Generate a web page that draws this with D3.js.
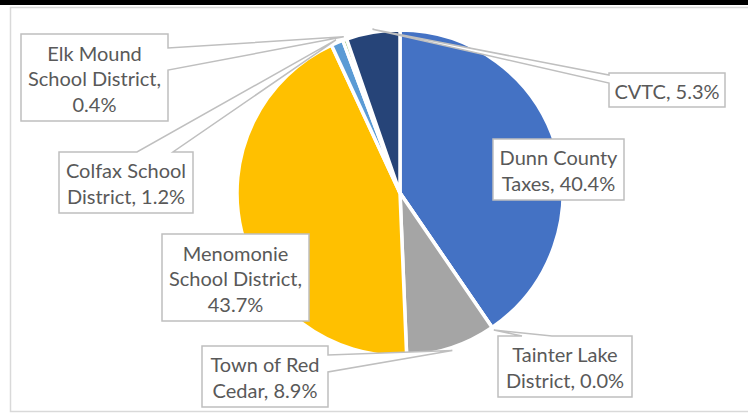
<!DOCTYPE html>
<html>
<head>
<meta charset="utf-8">
<script src="https://cdn.jsdelivr.net/npm/d3@7"></script>
<style>
  body { margin: 0; background: #fff; }
  svg { display: block; }
</style>
</head>
<body>
<svg id="chart" width="748" height="414"></svg>
<script>
// slices, clockwise from 12 o'clock
var categories = ["Dunn County Taxes", "Tainter Lake District", "Town of Red Cedar",
  "Menomonie School District", "Colfax School District", "Elk Mound School District", "CVTC"];
var shares = [40.4, 0.0, 8.9, 43.7, 1.2, 0.4, 5.3];
var nameLines = [["Dunn County", "Taxes"], ["Tainter Lake", "District"], ["Town of Red", "Cedar"],
  ["Menomonie", "School District"], ["Colfax School", "District"], ["Elk Mound", "School District"], ["CVTC"]];
var colors = ["#4472C4", "#ED7D31", "#A5A5A5", "#FFC000", "#5B9BD5", "#70AD47", "#264478"];

// callout boxes (x, y, w, h), which side the pointer leaves from and where
var callouts = [
  {box: [493, 139, 131, 61], side: null},
  {box: [498, 336, 134, 61], side: "top", base: [522, 552]},
  {box: [202, 346, 126, 61], side: "right", base: [355, 372]},
  {box: [162, 234, 147, 87], side: null, ownLine: true},
  {box: [59, 152, 134, 61], side: "top", base: [137, 173]},
  {box: [21, 34, 147, 87], side: "right", base: [48, 70], ownLine: true},
  {box: [609, 73, 116, 34], side: "left", base: [75, 83]}
];

var svg = d3.select("#chart");
var cx = 400, cy = 193, R = 163;
var fmt = d3.format(".1f");

// frame
svg.append("rect").attr("x", 0).attr("y", 0).attr("width", 748).attr("height", 5).attr("fill", "#000");
svg.append("rect").attr("x", 10.5).attr("y", 7.5).attr("width", 760).attr("height", 404)
  .attr("fill", "#fff").attr("stroke", "#d9d9d9").attr("stroke-width", 1.5);

var pie = d3.pie().sort(null).value(function(d) { return d; });
var arcs = pie(shares);
var arc = d3.arc().innerRadius(0).outerRadius(R);
var tipArc = d3.arc().innerRadius(R + 3).outerRadius(R + 3);

var g = svg.append("g").attr("transform", "translate(" + cx + "," + cy + ")");
g.selectAll("path")
  .data(arcs)
  .enter().append("path")
    .attr("d", arc)
    .attr("fill", function(d, i) { return colors[i]; })
    .attr("stroke", "#fff")
    .attr("stroke-width", 3.5);

function calloutPath(c, tip) {
  var x = c.box[0], y = c.box[1], w = c.box[2], h = c.box[3];
  var p = d3.path();
  p.moveTo(x, y);
  if (c.side == "top") { p.lineTo(c.base[0], y); p.lineTo(tip[0], tip[1]); p.lineTo(c.base[1], y); }
  p.lineTo(x + w, y);
  if (c.side == "right") { p.lineTo(x + w, c.base[0]); p.lineTo(tip[0], tip[1]); p.lineTo(x + w, c.base[1]); }
  p.lineTo(x + w, y + h);
  p.lineTo(x, y + h);
  if (c.side == "left") { p.lineTo(x, c.base[1]); p.lineTo(tip[0], tip[1]); p.lineTo(x, c.base[0]); }
  p.closePath();
  return p.toString();
}

var labels = svg.append("g");
arcs.forEach(function(d, i) {
  var c = callouts[i];
  var t = tipArc.centroid(d);
  var tip = [t[0] + cx, t[1] + cy];
  labels.append("path")
    .attr("d", calloutPath(c, tip))
    .attr("fill", "#fff")
    .attr("stroke", "#bfbfbf")
    .attr("stroke-width", 1.5)
    .attr("stroke-linejoin", "miter");

  var lines = nameLines[i].slice();
  var val = fmt(shares[i]) + "%";
  if (c.ownLine) { lines[lines.length - 1] += ","; lines.push(val); }
  else lines[lines.length - 1] += ", " + val;

  var mx = c.box[0] + c.box[2] / 2, my = c.box[1] + c.box[3] / 2 + 1.5;
  var lh = 25.5;
  lines.forEach(function(s, j) {
    labels.append("text")
      .attr("x", mx)
      .attr("y", my + (j - (lines.length - 1) / 2) * lh)
      .attr("dy", "0.35em")
      .attr("text-anchor", "middle")
      .attr("font-family", "Lato, 'Open Sans', sans-serif")
      .attr("font-size", 20)
      .attr("fill", "#595959")
      .text(s);
  });
});
</script>
</body>
</html>
